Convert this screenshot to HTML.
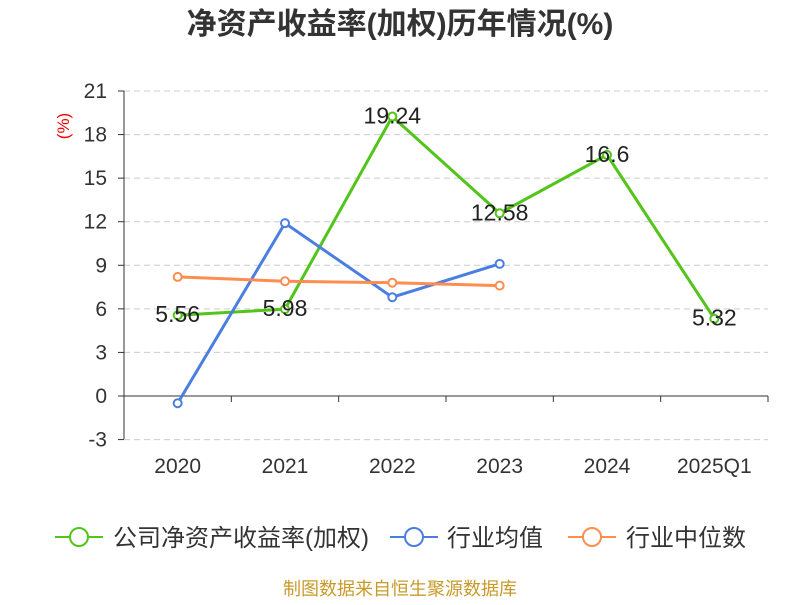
<!DOCTYPE html>
<html><head><meta charset="utf-8"><style>
body{margin:0;background:#fff;font-family:"Liberation Sans","Noto Sans CJK SC",sans-serif;}
svg text{font-family:"Liberation Sans","Noto Sans CJK SC",sans-serif;}
</style></head><body>
<svg id="c" width="800" height="600">
<text x="400" y="34" text-anchor="middle" font-size="30" font-weight="bold" fill="#333">净资产收益率(加权)历年情况(%)</text>
<text x="0" y="0" transform="translate(69,126) rotate(-90)" text-anchor="middle" font-size="17" fill="#e00">(%)</text>
<g id="grid"></g><g id="series"></g>
<g>
<g><line x1="55" y1="537" x2="103" y2="537" stroke="#52c41a" stroke-width="2"/><circle cx="79" cy="537" r="9" fill="#fff" stroke="#52c41a" stroke-width="2"/><text x="113" y="546" font-size="24" fill="#333">公司净资产收益率(加权)</text></g>
<g><line x1="390" y1="537" x2="438" y2="537" stroke="#4a7fe0" stroke-width="2"/><circle cx="414" cy="537" r="9" fill="#fff" stroke="#4a7fe0" stroke-width="2"/><text x="447" y="546" font-size="24" fill="#333">行业均值</text></g>
<g><line x1="568" y1="537" x2="616" y2="537" stroke="#ff8c50" stroke-width="2"/><circle cx="592" cy="537" r="9" fill="#fff" stroke="#ff8c50" stroke-width="2"/><text x="626" y="546" font-size="24" fill="#333">行业中位数</text></g>
</g>
<text x="400" y="595" text-anchor="middle" font-size="18" fill="#c89a2a">制图数据来自恒生聚源数据库</text>
</svg>
<script>
const categories=["2020","2021","2022","2023","2024","2025Q1"];
const companyVals=[5.56,5.98,19.24,12.58,16.6,5.32];
const companyLabels=["5.56","5.98","19.24","12.58","16.6","5.32"];
const avgVals=[-0.5,11.9,6.8,9.1];
const medianVals=[8.2,7.9,7.8,7.6];
const yTicks=[-3,0,3,6,9,12,15,18,21];
const NS="http://www.w3.org/2000/svg";
const x0=124,x1=768,band=(x1-x0)/categories.length;
const xs=i=>x0+band*(i+0.5);
const ys=v=>396-(v)*(396-91)/21;
function mk(t,a,p){const e=document.createElementNS(NS,t);for(const k in a)e.setAttribute(k,a[k]);p.appendChild(e);return e;}
const g=document.getElementById('grid'),s=document.getElementById('series');
yTicks.forEach(v=>{
 const y=ys(v);
 const l=mk('line',{x1:124,x2:768,y1:y,y2:y,stroke:v===0?'#333':'#ccc','stroke-dasharray':v===0?'':'6,4'},g);
 
 mk('line',{x1:118,x2:124,y1:y,y2:y,stroke:'#333'},g);
 const t=mk('text',{x:107,y:y+7,'text-anchor':'end','font-size':21,fill:'#333'},g);t.textContent=v;
 
});
mk('line',{x1:124,x2:124,y1:91,y2:439,stroke:'#333'},g);
for(let i=0;i<=categories.length;i++)mk('line',{x1:x0+band*i,x2:x0+band*i,y1:396,y2:402,stroke:'#333'},g);
categories.forEach((c,i)=>{const t=mk('text',{x:xs(i),y:473,'text-anchor':'middle','font-size':21,fill:'#333'},g);t.textContent=c;
 });
function line(vals,col,name){
 const p=mk('polyline',{points:vals.map((v,i)=>xs(i)+','+ys(v)).join(' '),fill:'none',stroke:col,'stroke-width':3},s);
 
 vals.forEach((v,i)=>{const c=mk('circle',{cx:xs(i),cy:ys(v),r:4,fill:'#fff',stroke:col,'stroke-width':2},s);
  });
}
line(companyVals,'#52c41a','company');
line(avgVals,'#4a7fe0','industry-avg');
line(medianVals,'#ff8c50','industry-median');
companyVals.forEach((v,i)=>{const t=mk('text',{x:xs(i),y:ys(v)+7,'text-anchor':'middle','font-size':23,fill:'#222'},s);t.textContent=companyLabels[i];
 });
</script>
</body></html>
